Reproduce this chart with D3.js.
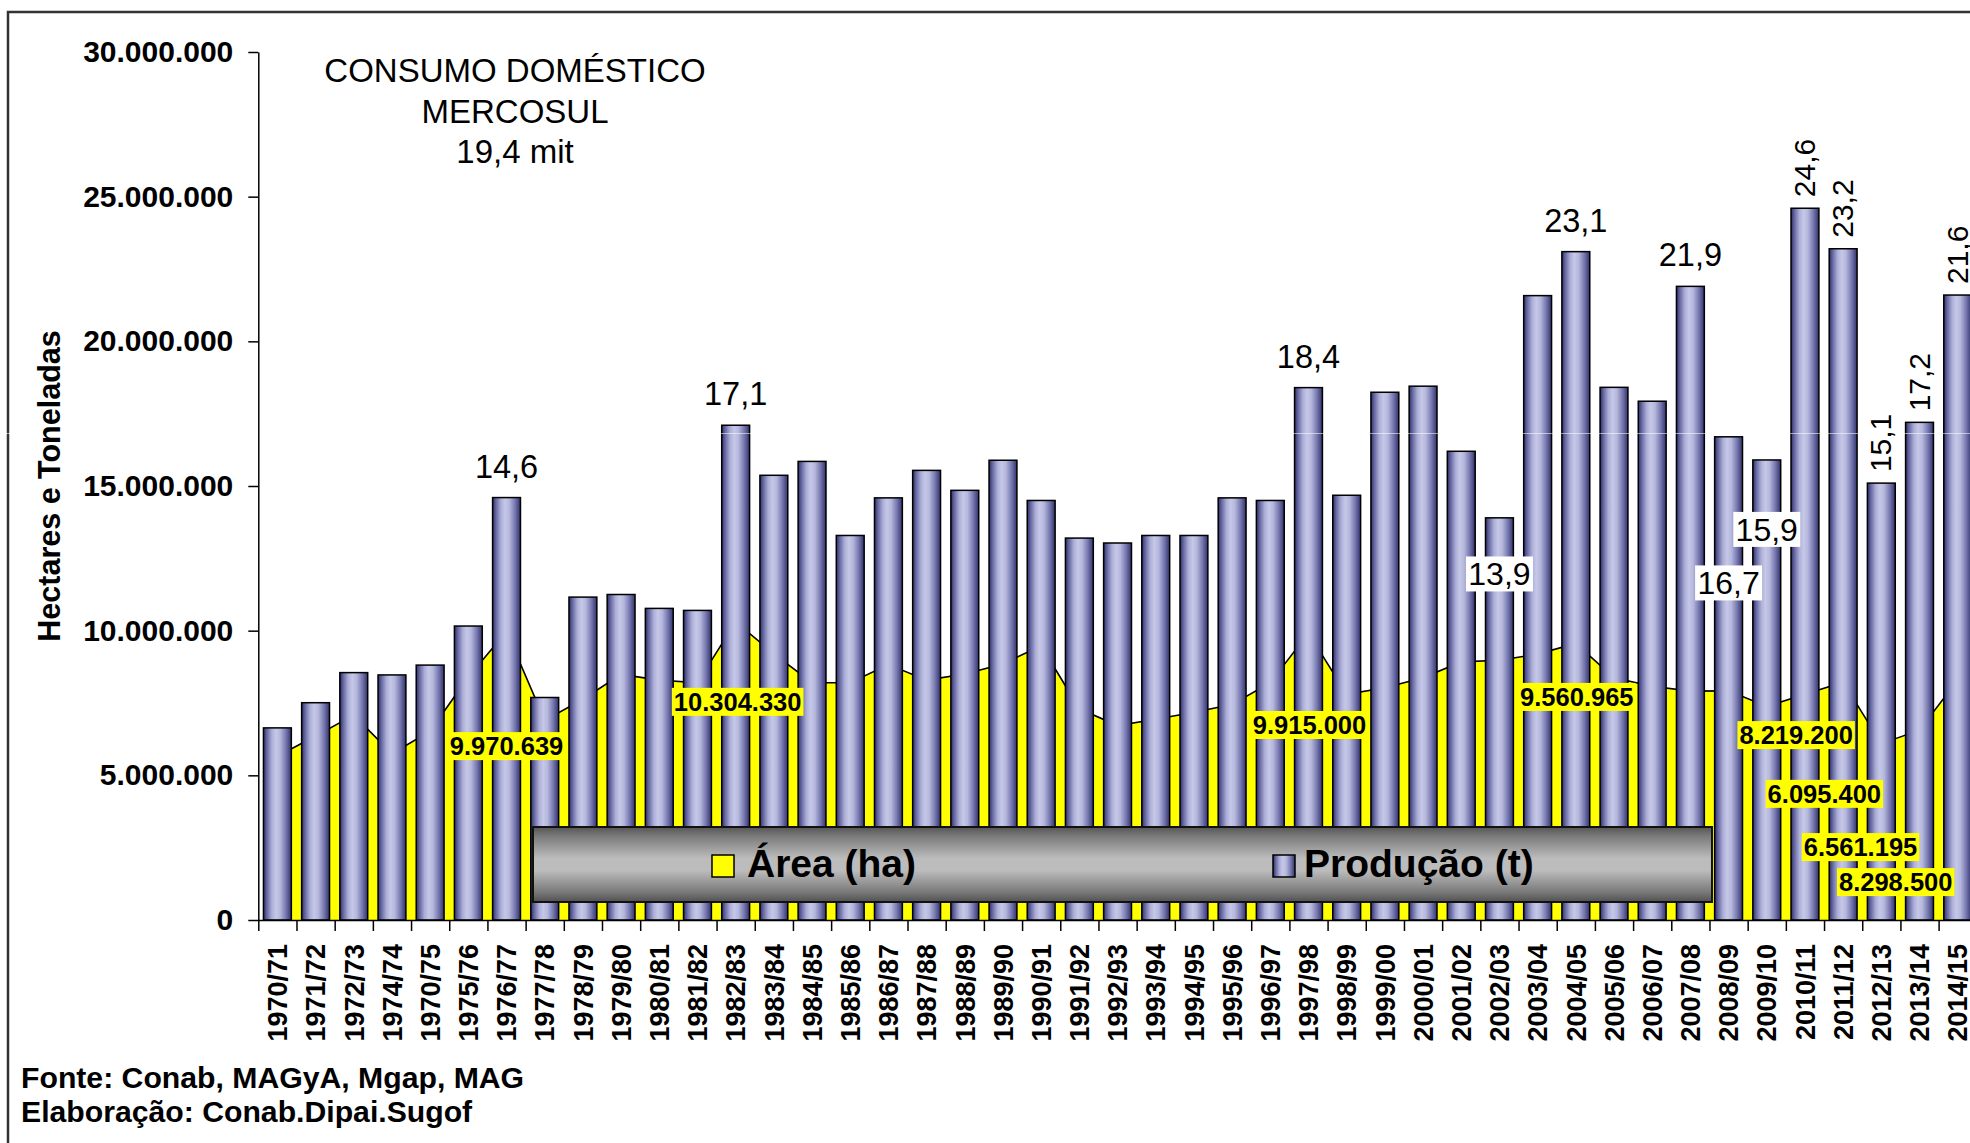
<!DOCTYPE html>
<html>
<head>
<meta charset="utf-8">
<script src="https://cdn.jsdelivr.net/npm/d3@7"></script>
<style>
    body { margin: 0; background: #fff; }
    svg { display: block; font-family: "Liberation Sans", Arial, sans-serif; }
</style>
</head>
<body>
<svg id="chart"></svg>
<script>
// Safras (categorias), como aparecem no eixo
const seasons = [
    "1970/71", "1971/72", "1972/73", "1974/74", "1970/75", "1975/76", "1976/77", "1977/78",
    "1978/79", "1979/80", "1980/81", "1981/82", "1982/83", "1983/84", "1984/85", "1985/86",
    "1986/87", "1987/88", "1988/89", "1989/90", "1990/91", "1991/92", "1992/93", "1993/94",
    "1994/95", "1995/96", "1996/97", "1997/98", "1998/99", "1999/00", "2000/01", "2001/02",
    "2002/03", "2003/04", "2004/05", "2005/06", "2006/07", "2007/08", "2008/09", "2009/10",
    "2010/11", "2011/12", "2012/13", "2013/14", "2014/15"
];

// Produção (t)
const producao = [
    6640000, 7510000, 8550000, 8470000, 8810000, 10160000, 14600000, 7690000,
    11160000, 11250000, 10770000, 10700000, 17100000, 15370000, 15850000, 13290000,
    14590000, 15540000, 14850000, 15890000, 14500000, 13200000, 13030000, 13290000,
    13290000, 14590000, 14500000, 18400000, 14680000, 18240000, 18450000, 16200000,
    13900000, 21580000, 23100000, 18410000, 17930000, 21900000, 16700000, 15900000,
    24600000, 23200000, 15100000, 17200000, 21600000
];

// Área (ha)
const area = [
    5660000, 6360000, 7080000, 5750000, 6530000, 8400000, 9970639, 6900000,
    7630000, 8490000, 8290000, 8200000, 10304330, 9200000, 8200000, 8200000,
    8830000, 8290000, 8500000, 8850000, 9480000, 7300000, 6720000, 6940000,
    7180000, 7450000, 8200000, 9915000, 7800000, 8030000, 8370000, 8920000,
    8980000, 9190000, 9560965, 8370000, 8080000, 7910000, 7920000, 7380000,
    7800000, 8219200, 6095400, 6561195, 8298500
];

const yTicks = [0, 5000000, 10000000, 15000000, 20000000, 25000000, 30000000];
const titleLines = ["CONSUMO DOMÉSTICO", "MERCOSUL", "19,4 mit"];
const sourceLines = ["Fonte: Conab, MAGyA, Mgap, MAG", "Elaboração: Conab.Dipai.Sugof"];
const yTitle = "Hectares e Toneladas";
const legendNames = ["Área (ha)", "Produção (t)"];

// quais safras levam rótulo de produção, e de que jeito
const prodAbove = ["1976/77", "1982/83", "1997/98", "2004/05", "2007/08"];
const prodRotated = ["2010/11", "2011/12", "2012/13", "2013/14", "2014/15"];
const prodBoxed = ["2002/03", "2008/09", "2009/10"];
const areaLabeled = ["1976/77", "1982/83", "1997/98", "2004/05", "2011/12", "2012/13", "2013/14", "2014/15"];

// onde os rótulos foram arrastados no gráfico original (centro, em unidades do eixo y)
const prodBoxedAt = [11960000, 11650000, 13500000];
const areaLabelAt = [
    { dx: 0, v: 6010000 }, { dx: 2, v: 7540000 }, { dx: 1, v: 6740000 }, { dx: 1, v: 7710000 },
    { dx: -47, v: 6390000 }, { dx: -57, v: 4360000 }, { dx: -59, v: 2520000 }, { dx: -62, v: 1310000 }
];

const W = 1970, H = 1143;
const svg = d3.select("#chart").attr("width", W).attr("height", H).attr("viewBox", [0, 0, W, H]);

const ptBR = d3.formatLocale({ decimal: ",", thousands: ".", grouping: [3], currency: ["R$", ""] });
const fmtInt = ptBR.format(",d");
const fmtMi = v => (v / 1e6).toFixed(1).replace(".", ",");

const defs = svg.append("defs");
const barGrad = defs.append("linearGradient").attr("id", "barGrad")
    .attr("x1", 0).attr("x2", 1).attr("y1", 0).attr("y2", 0);
[[0, "#2e2e68"], [0.12, "#6466a0"], [0.3, "#acaed7"], [0.45, "#c6c8e8"],
 [0.6, "#b5b7dc"], [0.8, "#7779b0"], [1, "#32326c"]]
    .forEach(([o, c]) => barGrad.append("stop").attr("offset", o).attr("stop-color", c));
const legGrad = defs.append("linearGradient").attr("id", "legGrad")
    .attr("x1", 0).attr("x2", 0).attr("y1", 0).attr("y2", 1);
[[0, "#555"], [0.12, "#7a7a7a"], [0.42, "#bcbcbc"], [0.58, "#bcbcbc"], [0.88, "#767676"], [1, "#505050"]]
    .forEach(([o, c]) => legGrad.append("stop").attr("offset", o).attr("stop-color", c));

// moldura
svg.append("rect").attr("x", 8).attr("y", 12).attr("width", 2000).attr("height", 1200)
    .attr("fill", "#fff").attr("stroke", "#333").attr("stroke-width", 2.5);

const x = d3.scaleBand().domain(seasons).range([258.3, 1976.8]).paddingInner(0.27).paddingOuter(0.135);
const xEdge = d3.scaleLinear().domain([0, seasons.length]).range([258.3, 1976.8]);
const y = d3.scaleLinear().domain([0, 30000000]).range([920, 52]);
const cx = s => x(s) + x.bandwidth() / 2;

const rows = seasons.map((s, i) => ({ s, prod: producao[i], area: area[i] }));

// Área: preenchimento amarelo atrás das barras
const areaGen = d3.area().x(d => cx(d.s)).y0(y(0)).y1(d => y(d.area));
const lineGen = d3.line().x(d => cx(d.s)).y(d => y(d.area));
svg.append("path").datum(rows).attr("fill", "#ffff00").attr("d", areaGen);
svg.append("path").datum(rows).attr("fill", "none").attr("stroke", "#000")
    .attr("stroke-width", 1.6).attr("d", lineGen);

// Produção: barras
svg.append("g").selectAll("rect").data(rows).join("rect")
    .attr("x", d => x(d.s)).attr("width", x.bandwidth())
    .attr("y", d => y(d.prod)).attr("height", d => y(0) - y(d.prod))
    .attr("fill", "url(#barGrad)").attr("stroke", "#000").attr("stroke-width", 1.5);

// linha clara que atravessa a imagem original
svg.append("line").attr("x1", 0).attr("x2", W).attr("y1", 433.5).attr("y2", 433.5)
    .attr("stroke", "#fff").attr("stroke-opacity", 0.55).attr("stroke-width", 1);

// eixos
const yAxis = svg.append("g").attr("transform", `translate(${ 258.3 },0)`)
    .call(d3.axisLeft(y).tickValues(yTicks).tickSize(10).tickPadding(15).tickSizeOuter(0).tickFormat(fmtInt));
yAxis.selectAll("text").attr("font-size", 30).attr("font-weight", "bold").attr("fill", "#000")
    .attr("font-family", "Liberation Sans, Arial, sans-serif");
yAxis.selectAll("line, path").attr("stroke", "#000").attr("stroke-width", 1.5);

const xTicks = svg.append("g").attr("transform", `translate(0,${ y(0) })`)
    .call(d3.axisBottom(xEdge).tickValues(d3.range(seasons.length + 1)).tickSize(11).tickSizeOuter(0).tickFormat(""));
xTicks.selectAll("line, path").attr("stroke", "#000").attr("stroke-width", 1.5);

const xLabels = svg.append("g").attr("transform", `translate(0,${ y(0) })`)
    .call(d3.axisBottom(x).tickSize(0).tickSizeOuter(0));
xLabels.select(".domain").remove();
xLabels.selectAll("text")
    .attr("transform", "rotate(-90)").attr("text-anchor", "end")
    .attr("x", -24).attr("y", 0).attr("dy", "0.36em")
    .attr("font-size", 27).attr("font-weight", "bold").attr("fill", "#000")
    .attr("font-family", "Liberation Sans, Arial, sans-serif");

svg.append("text").attr("transform", `translate(60,486) rotate(-90)`)
    .attr("text-anchor", "middle").attr("font-size", 30.5).attr("font-weight", "bold")
    .text(yTitle);

// título
svg.append("g").selectAll("text").data(titleLines).join("text")
    .attr("x", 515).attr("y", (d, i) => 82 + i * 40.5)
    .attr("text-anchor", "middle").attr("font-size", 33).text(d => d);

// rótulos de produção
const byS = new Map(rows.map(d => [d.s, d]));
svg.append("g").selectAll("text").data(prodAbove).join("text")
    .attr("x", d => cx(d)).attr("y", d => y(byS.get(d).prod) - 20)
    .attr("text-anchor", "middle").attr("font-size", 32.5).text(d => fmtMi(byS.get(d).prod));

svg.append("g").selectAll("text").data(prodRotated).join("text")
    .attr("transform", d => `translate(${ cx(d) + 10 },${ y(byS.get(d).prod) - 11 }) rotate(-90)`)
    .attr("font-size", 30).text(d => fmtMi(byS.get(d).prod));

const boxed = svg.append("g").selectAll("g").data(prodBoxed).join("g")
    .attr("transform", (d, i) => `translate(${ cx(d) },${ y(prodBoxedAt[i]) })`);
boxed.append("rect").attr("x", -33.5).attr("y", -17.5).attr("width", 67).attr("height", 35).attr("fill", "#fff");
boxed.append("text").attr("text-anchor", "middle").attr("dy", "0.36em").attr("font-size", 32)
    .text(d => fmtMi(byS.get(d).prod));

// rótulos de área
const aLab = svg.append("g").selectAll("g").data(areaLabeled).join("g")
    .attr("transform", (d, i) => `translate(${ cx(d) + areaLabelAt[i].dx },${ y(areaLabelAt[i].v) })`);
aLab.append("text").attr("text-anchor", "middle").attr("dy", "0.36em")
    .attr("font-size", 25.5).attr("font-weight", "bold").text(d => fmtInt(byS.get(d).area));
aLab.insert("rect", "text").each(function () {
    const b = this.parentNode.querySelector("text").getBBox();
    d3.select(this).attr("x", b.x - 2).attr("y", -14).attr("width", b.width + 4).attr("height", 28)
        .attr("fill", "#ffff00");
});

// legenda
const leg = svg.append("g");
leg.append("rect").attr("x", 533).attr("y", 827).attr("width", 1179).attr("height", 75)
    .attr("fill", "url(#legGrad)").attr("stroke", "#111").attr("stroke-width", 2);
const legItems = [
    { name: legendNames[0], fill: "#ffff00", sx: 712, tx: 747 },
    { name: legendNames[1], fill: "url(#barGrad)", sx: 1273, tx: 1304 }
];
legItems.forEach(it => {
    leg.append("rect").attr("x", it.sx).attr("y", 855).attr("width", 22).attr("height", 22)
        .attr("fill", it.fill).attr("stroke", "#000").attr("stroke-width", 1.5);
    leg.append("text").attr("x", it.tx).attr("y", 877).attr("font-size", 39)
        .attr("font-weight", "bold").text(it.name);
});

// fonte
svg.append("g").selectAll("text").data(sourceLines).join("text")
    .attr("x", 21).attr("y", (d, i) => 1088 + i * 34)
    .attr("font-size", 30.2).attr("font-weight", "bold").text(d => d);
</script>
</body>
</html>
